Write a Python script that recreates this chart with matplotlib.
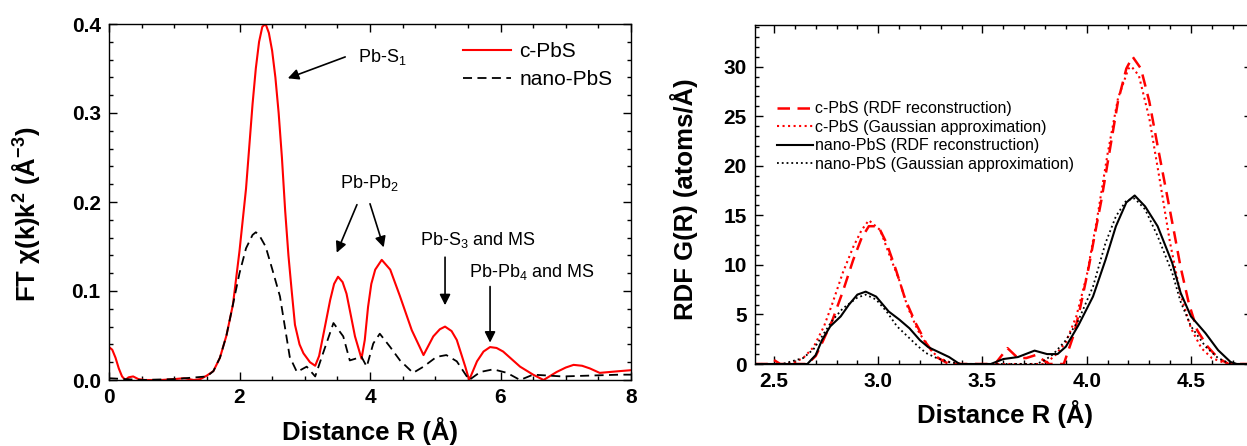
import numpy as np
import matplotlib
matplotlib.use("Agg")
import matplotlib.pyplot as plt
from matplotlib.ticker import MultipleLocator

plt.rcParams["font.family"] = ["Liberation Sans", "DejaVu Sans"]
plt.rcParams["mathtext.default"] = "regular"

# --- Panneau gauche : FT chi(k)k^2 ---
r_c = [0.0, 0.05, 0.1, 0.15, 0.2, 0.25, 0.3, 0.37, 0.45, 0.55, 0.8, 1.0, 1.15, 1.3, 1.4, 1.5,
       1.6, 1.7, 1.8, 1.9, 2.0, 2.1, 2.2, 2.25, 2.3, 2.35, 2.4, 2.45, 2.5, 2.55, 2.6, 2.65,
       2.7, 2.75, 2.8, 2.85, 2.92, 2.98, 3.08, 3.16, 3.22, 3.28, 3.39, 3.45, 3.51, 3.58, 3.64,
       3.7, 3.77, 3.87, 3.92, 3.97, 4.02, 4.08, 4.18, 4.31, 4.46, 4.64, 4.82, 4.97, 5.07,
       5.15, 5.25, 5.33, 5.46, 5.52, 5.64, 5.74, 5.84, 5.94, 6.04, 6.3, 6.5, 6.66, 6.86,
       7.0, 7.12, 7.25, 7.37, 7.52, 7.83, 8.0]
ft_c = [0.037, 0.034, 0.025, 0.013, 0.004, 0.0, 0.003, 0.004, 0.001, 0.0, 0.0, 0.001, 0.002,
        0.0, 0.001, 0.005, 0.01, 0.025, 0.05, 0.085, 0.145, 0.215, 0.31, 0.35, 0.38, 0.397,
        0.40, 0.39, 0.37, 0.34, 0.30, 0.25, 0.19, 0.14, 0.10, 0.062, 0.04, 0.03, 0.02, 0.016,
        0.027, 0.049, 0.09, 0.108, 0.116, 0.11, 0.097, 0.075, 0.049, 0.024, 0.045, 0.082,
        0.108, 0.124, 0.135, 0.124, 0.094, 0.056, 0.028, 0.049, 0.057, 0.060, 0.055, 0.045,
        0.015, 0.0, 0.021, 0.032, 0.037, 0.036, 0.032, 0.015, 0.006, 0.0, 0.009, 0.014,
        0.017, 0.016, 0.013, 0.008, 0.010, 0.011]

r_n = [0.0, 0.5, 1.0, 1.5, 1.6, 1.7, 1.8, 1.9, 2.0, 2.1, 2.2, 2.25, 2.3, 2.4, 2.5, 2.62,
       2.77, 2.88, 3.03, 3.16, 3.28, 3.44, 3.59, 3.69, 3.87, 3.95, 4.05, 4.15, 4.31, 4.46,
       4.66, 4.82, 5.02, 5.17, 5.33, 5.52, 5.69, 5.89, 6.1, 6.3, 6.5, 6.95, 7.83, 8.0]
ft_n = [0.002, 0.0, 0.001, 0.004, 0.01, 0.025, 0.05, 0.085, 0.12, 0.148, 0.163, 0.166,
        0.163, 0.15, 0.125, 0.094, 0.026, 0.009, 0.015, 0.004, 0.030, 0.064, 0.049, 0.022,
        0.026, 0.015, 0.041, 0.052, 0.037, 0.022, 0.008, 0.015, 0.026, 0.028, 0.021, 0.0,
        0.009, 0.012, 0.008, 0.0, 0.006, 0.004, 0.006, 0.006]

# --- Panneau droit : RDF G(R) ---
g_c_x = [2.41, 2.47, 2.50, 2.53, 2.66, 2.70, 2.73, 2.78, 2.83, 2.88, 2.92, 2.955, 3.00,
         3.04, 3.085, 3.13, 3.18, 3.23, 3.28, 3.33, 3.36, 3.56, 3.62, 3.67, 3.71, 3.755,
         3.82, 3.89, 3.94, 3.97, 4.01, 4.04, 4.07, 4.11, 4.15, 4.19, 4.22, 4.26, 4.30, 4.34,
         4.39, 4.42, 4.45, 4.49, 4.53, 4.58, 4.63, 4.68, 4.80]
g_c = [0, 0, 0.4, 0, 0, 0.8, 2.1, 4.4, 7.3, 10.5, 12.7, 13.9, 13.9, 12.2, 9.5, 6.5, 4.1,
       2.1, 0.7, 0.1, 0, 0, 1.6, 0.6, 0.6, 0.9, 0, 0, 3.1, 5.8, 9.8, 13.2, 16.5, 21.5, 26.5,
       29.8, 31.0, 29.8, 26.5, 22.0, 16.5, 13.2, 9.8, 6.1, 3.4, 1.75, 0.6, 0, 0]

g_c_gx = [2.41, 2.55, 2.60, 2.64, 2.69, 2.74, 2.78, 2.83, 2.88, 2.92, 2.955, 3.01, 3.05,
          3.10, 3.14, 3.19, 3.24, 3.29, 3.34, 3.40, 3.80, 3.85, 3.90, 3.95, 4.00, 4.05, 4.10,
          4.15, 4.20, 4.215, 4.25, 4.30, 4.35, 4.40, 4.45, 4.50, 4.55, 4.60, 4.65, 4.70, 4.80]
g_c_g = [0, 0, 0.2, 0.6, 1.7, 3.8, 6.1, 9.2, 11.8, 13.5, 14.5, 13.5, 11.2, 8.5, 5.8, 3.4,
         1.7, 0.6, 0.2, 0, 0, 0.9, 2.2, 4.8, 8.9, 14.7, 21.2, 26.8, 29.8, 30.0, 29.1, 24.8,
         18.6, 12.2, 7.0, 3.6, 1.6, 0.6, 0.2, 0, 0]

g_n_x = [2.41, 2.66, 2.70, 2.73, 2.77, 2.82, 2.86, 2.90, 2.94, 2.99, 3.05, 3.10, 3.15, 3.20,
         3.24, 3.29, 3.34, 3.39, 3.54, 3.60, 3.67, 3.75, 3.81, 3.86, 3.90, 3.96, 4.03, 4.09,
         4.14, 4.19, 4.23, 4.28, 4.34, 4.41, 4.45, 4.50, 4.57, 4.63, 4.69, 4.72, 4.80]
g_n = [0, 0, 0.9, 2.4, 3.8, 4.8, 6.0, 7.0, 7.3, 6.8, 5.3, 4.5, 3.6, 2.4, 1.7, 1.2, 0.7, 0,
       0, 0.5, 0.7, 1.35, 1.0, 1.0, 1.75, 3.9, 6.8, 10.5, 13.9, 16.3, 17.0, 15.9, 13.9, 10.2,
       7.2, 4.8, 3.1, 1.4, 0.2, 0, 0]

g_n_gx = [2.41, 2.54, 2.59, 2.64, 2.69, 2.74, 2.78, 2.83, 2.90, 2.94, 2.99, 3.04, 3.09,
          3.14, 3.19, 3.23, 3.28, 3.34, 3.40, 3.76, 3.80, 3.84, 3.90, 3.96, 4.03, 4.09, 4.14,
          4.19, 4.23, 4.28, 4.34, 4.41, 4.45, 4.50, 4.57, 4.63, 4.68, 4.72, 4.80]
g_n_g = [0, 0, 0.3, 0.6, 1.5, 3.1, 4.4, 5.6, 6.7, 7.0, 6.5, 5.3, 3.8, 2.8, 1.8, 1.1, 0.6,
         0.2, 0, 0, 0.4, 1.0, 2.4, 4.4, 7.8, 12.2, 14.9, 16.5, 16.7, 15.6, 12.9, 9.2, 6.3,
         3.8, 1.75, 0.6, 0.1, 0, 0]

W, H = 1247, 446
fig = plt.figure(figsize=(W / 100, H / 100), dpi=100)
ax1 = fig.add_axes([109 / W, 66 / H, 522 / W, 356 / H])
ax2 = fig.add_axes([755 / W, 82 / H, 497 / W, 339 / H])

tick_fs = 15
lab_fs = 18.5


def style(ax):
	ax.tick_params(which="both", direction="in", top=True, right=True, width=1,
	               labelsize=tick_fs, pad=6)
	ax.tick_params(which="major", length=6)
	ax.tick_params(which="minor", length=3)
	for lab in ax.get_xticklabels() + ax.get_yticklabels():
		lab.set_fontweight("bold")
	for s in ax.spines.values():
		s.set_linewidth(1)


# Gauche
ax1.plot(r_c, ft_c, "-", color="red", lw=1.5, label="c-PbS")
ax1.plot(r_n, ft_n, "--", color="black", lw=1.3, dashes=(5, 3), label="nano-PbS")
ax1.set_xlim(0, 8)
ax1.set_ylim(0, 0.4)
ax1.xaxis.set_major_locator(MultipleLocator(2))
ax1.xaxis.set_minor_locator(MultipleLocator(0.5))
ax1.yaxis.set_major_locator(MultipleLocator(0.1))
ax1.yaxis.set_minor_locator(MultipleLocator(0.02))
ax1.set_yticks([0, 0.1, 0.2, 0.3, 0.4])
ax1.set_yticklabels(["0.0", "0.1", "0.2", "0.3", "0.4"])
style(ax1)
ax1.set_xlabel("Distance R (Å)", fontsize=lab_fs, fontweight="bold")
ax1.set_ylabel("FT χ(k)k$^{2}$ (Å$^{-3}$)", fontsize=lab_fs, fontweight="bold")
ax1.xaxis.set_label_coords(0.5, -0.105)
ax1.yaxis.set_label_coords(-0.128, 0.466)
ax1.legend(loc="upper left", bbox_to_anchor=(0.678, 0.95), frameon=False, fontsize=15,
           handlelength=2.3, handletextpad=0.4, labelspacing=0.45, borderpad=0,
           borderaxespad=0)

arrow = dict(arrowstyle="-|>", color="black", lw=1.2, mutation_scale=16, shrinkA=0, shrinkB=0)
ann_fs = 13
ax1.text(3.82, 0.363, "Pb-S$_1$", fontsize=ann_fs, va="center")
ax1.annotate("", xy=(2.74, 0.339), xytext=(3.62, 0.363), arrowprops=arrow)
ax1.text(3.54, 0.221, "Pb-Pb$_2$", fontsize=ann_fs, va="center")
ax1.annotate("", xy=(3.49, 0.143), xytext=(3.80, 0.197), arrowprops=arrow)
ax1.annotate("", xy=(4.21, 0.149), xytext=(4.0, 0.198), arrowprops=arrow)
ax1.text(4.77, 0.157, "Pb-S$_3$ and MS", fontsize=ann_fs, va="center")
ax1.annotate("", xy=(5.15, 0.084), xytext=(5.15, 0.138), arrowprops=arrow)
ax1.text(5.52, 0.121, "Pb-Pb$_4$ and MS", fontsize=ann_fs, va="center")
ax1.annotate("", xy=(5.84, 0.042), xytext=(5.84, 0.105), arrowprops=arrow)

# Droite
ax2.plot(g_c_x, g_c, "--", color="red", lw=1.8, dashes=(5, 3),
         label="c-PbS (RDF reconstruction)")
ax2.plot(g_c_gx, g_c_g, ":", color="red", lw=1.5, label="c-PbS (Gaussian approximation)")
ax2.plot(g_n_x, g_n, "-", color="black", lw=1.5, label="nano-PbS (RDF reconstruction)")
ax2.plot(g_n_gx, g_n_g, ":", color="black", lw=1.3,
         label="nano-PbS (Gaussian approximation)")
ax2.set_xlim(2.409, 2.409 + 497 / 208.5)
ax2.set_ylim(0, 34.2)
ax2.xaxis.set_major_locator(MultipleLocator(0.5))
ax2.xaxis.set_minor_locator(MultipleLocator(0.1))
ax2.yaxis.set_major_locator(MultipleLocator(5))
ax2.yaxis.set_minor_locator(MultipleLocator(1))
ax2.set_xticks([2.5, 3.0, 3.5, 4.0, 4.5])
ax2.set_xticklabels(["2.5", "3.0", "3.5", "4.0", "4.5"])
style(ax2)
ax2.set_xlabel("Distance R (Å)", fontsize=lab_fs, fontweight="bold")
ax2.set_ylabel("RDF G(R) (atoms/Å)", fontsize=lab_fs, fontweight="bold")
ax2.xaxis.set_label_coords(0.503, -0.105)
ax2.yaxis.set_label_coords(-0.115, 0.487)
ax2.legend(loc="upper left", bbox_to_anchor=(0.044, 0.775), frameon=False, fontsize=11.5,
           handlelength=2.25, handletextpad=0.15, labelspacing=0.22, borderpad=0,
           borderaxespad=0)

fig.savefig("out.png", dpi=100)
